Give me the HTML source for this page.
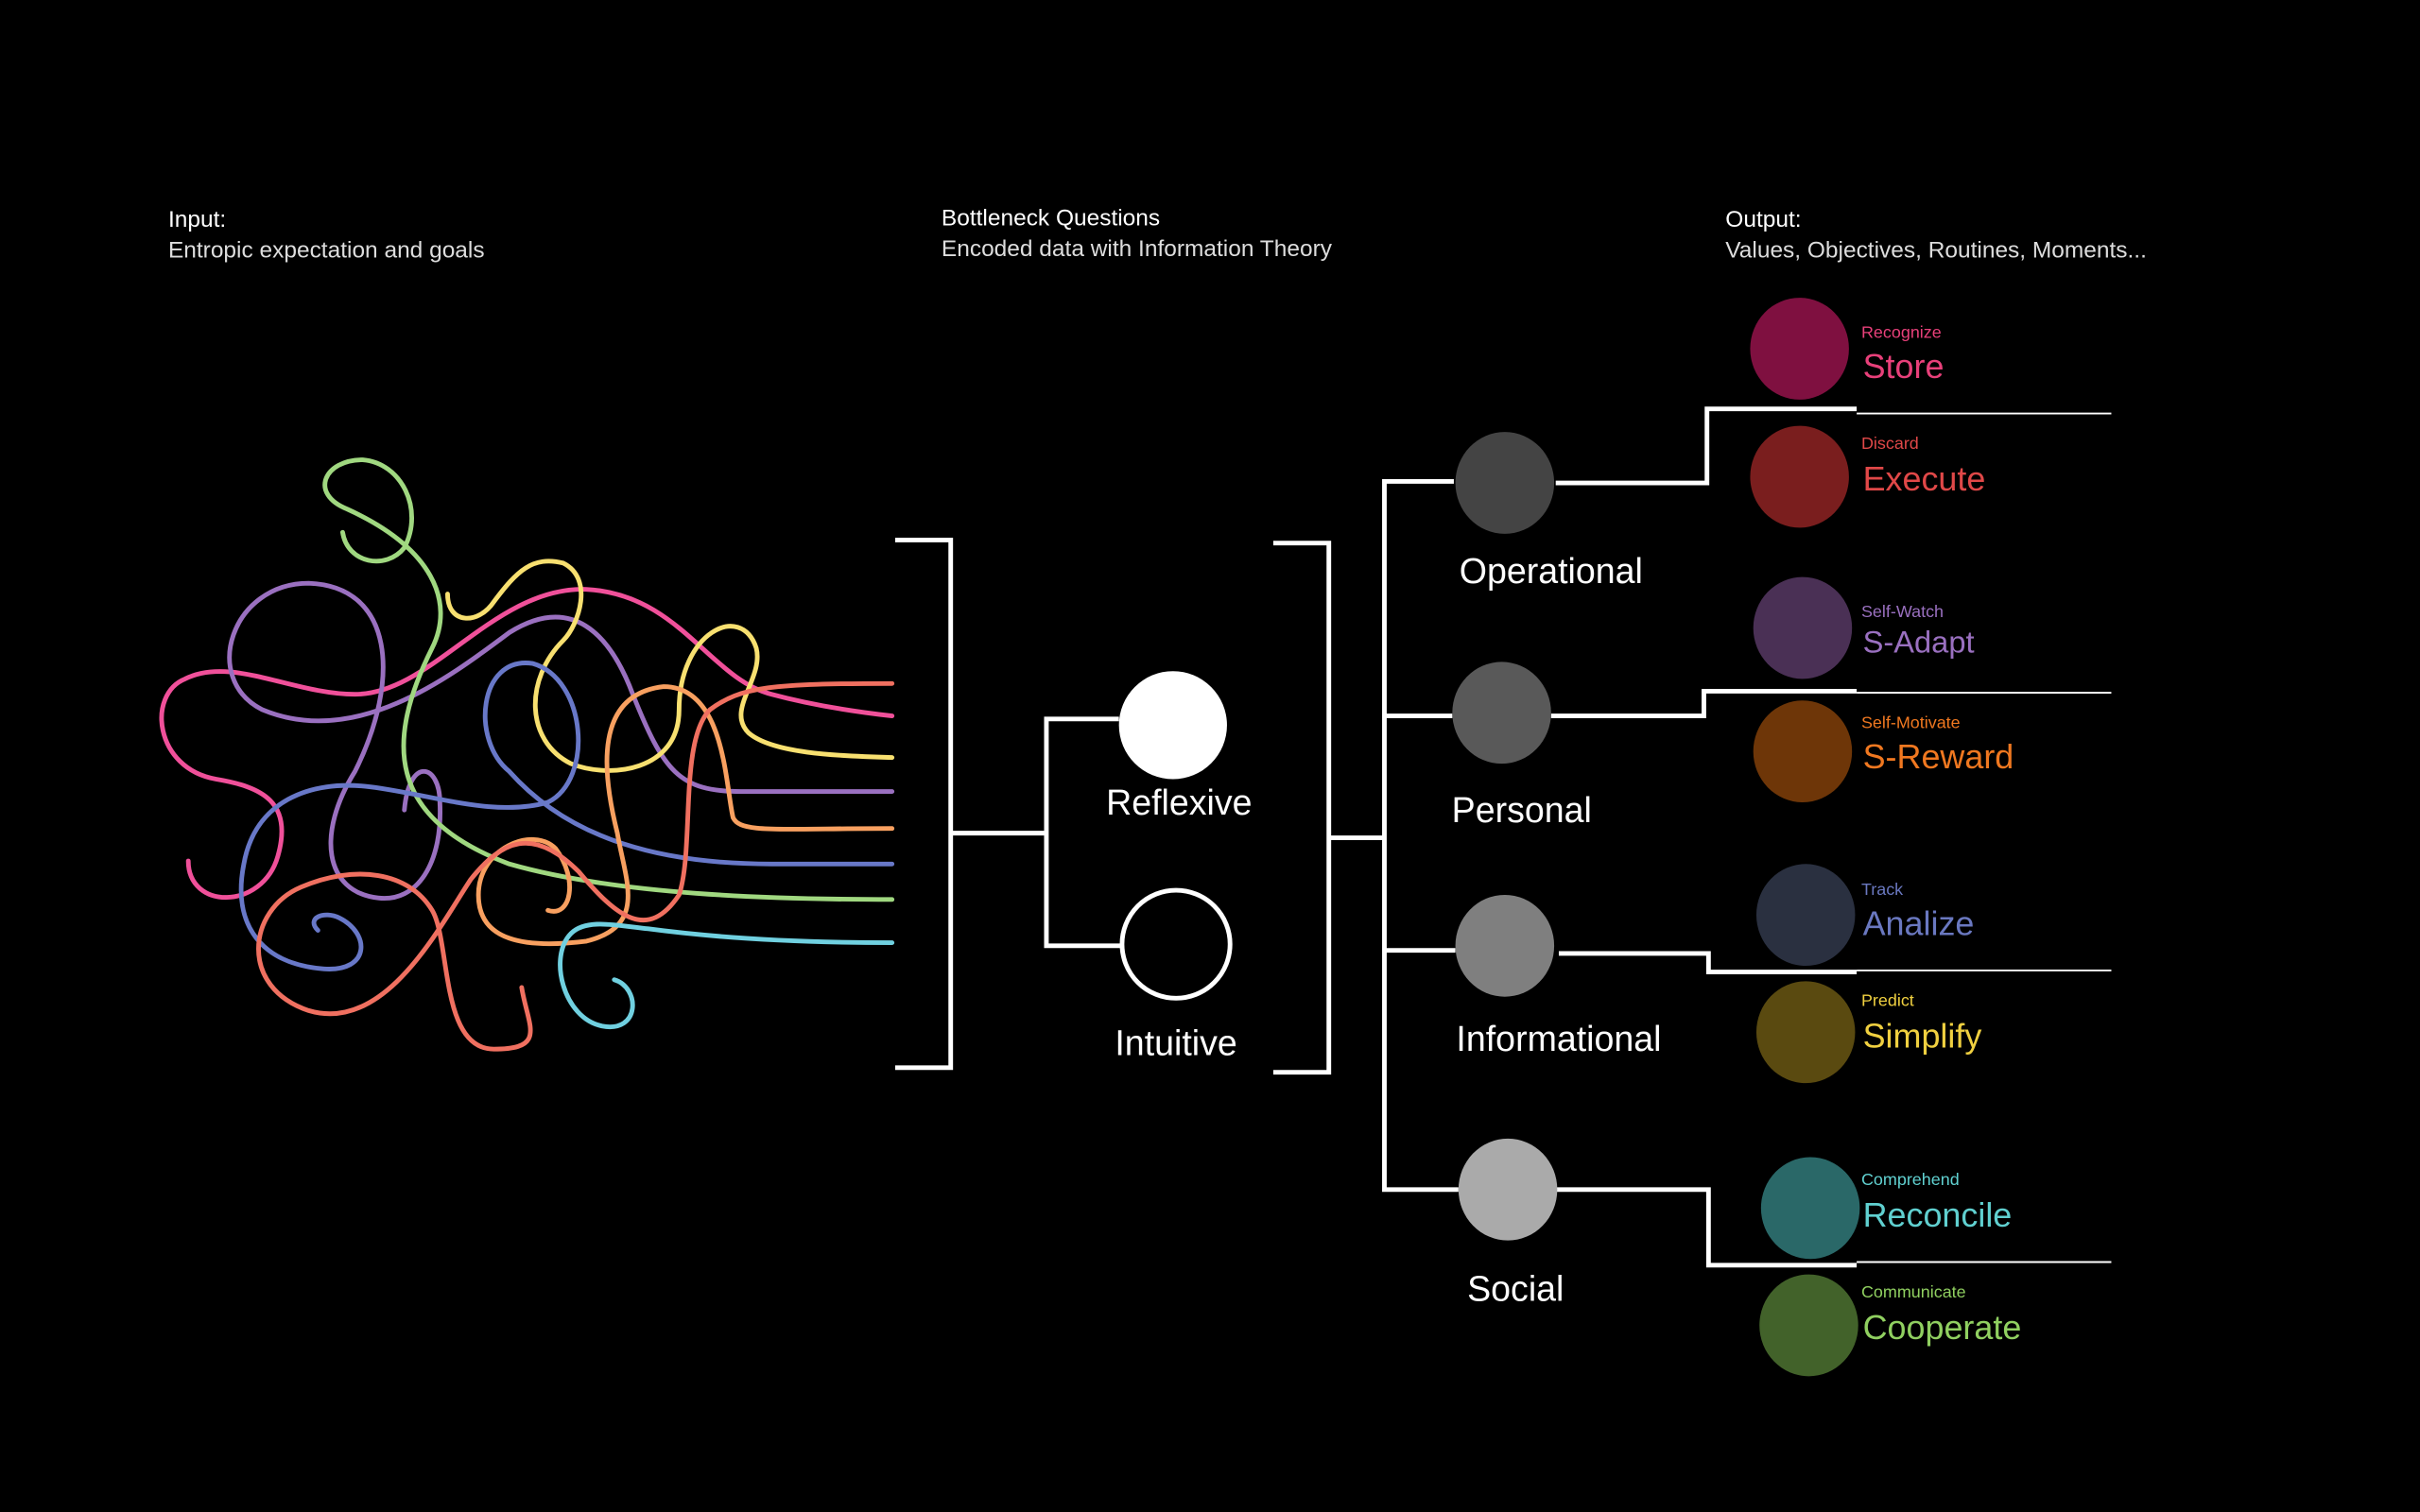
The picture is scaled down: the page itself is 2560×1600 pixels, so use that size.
<!DOCTYPE html>
<html><head><meta charset="utf-8"><style>
html,body{margin:0;padding:0;background:#000;}
svg{display:block;}
text{font-family:"Liberation Sans",sans-serif;}
</style></head><body>
<svg width="2560" height="1600" viewBox="0 0 1568 980" xmlns="http://www.w3.org/2000/svg">
<rect width="1568" height="980" fill="#000"/>
<g font-size="15" fill="#fff">
<text x="109" y="147">Input:</text>
<text x="109" y="167" fill="#ddd">Entropic expectation and goals</text>
<text x="610" y="146">Bottleneck Questions</text>
<text x="610" y="166" fill="#ddd">Encoded data with Information Theory</text>
<text x="1118" y="147">Output:</text>
<text x="1118" y="167" fill="#ddd">Values, Objectives, Routines, Moments...</text>
</g>
<g fill="none" stroke-width="3" stroke-linecap="round">
<path stroke="#f0509a" d="M122,558 C122,590 170,590 180,555 C190,520 170,510 140,505 C100,498 95,450 120,440 C150,425 190,450 230,450 C280,450 320,380 380,382 C440,385 460,440 500,450 C530,458 560,462 578,464"/>
<path stroke="#9a70c0" d="M262,525 C265,490 285,495 285,520 C287,560 270,585 245,582 C210,578 205,540 230,500 C260,440 255,380 200,378 C150,378 130,440 170,460 C230,485 290,440 330,410 C370,385 395,410 410,450 C430,500 440,513 480,513 L578,513"/>
<path stroke="#f8e070" d="M290,385 C290,405 310,405 320,390 C335,370 345,360 365,365 C385,375 375,405 365,415 C340,440 340,480 370,495 C395,505 440,500 440,460 C440,410 480,390 490,420 C495,440 470,460 485,475 C500,488 540,490 578,491"/>
<path stroke="#a0d880" d="M222,345 C225,365 250,370 262,355 C275,330 260,300 235,298 C210,298 200,320 225,330 C280,355 295,390 280,420 C250,480 250,530 330,560 C400,580 500,583 578,583"/>
<path stroke="#6878c8" d="M206,603 C198,595 210,590 220,595 C240,605 240,630 210,628 C170,625 150,600 158,560 C165,520 200,505 240,510 C280,515 320,530 355,520 C385,505 380,440 345,430 C310,425 305,480 330,500 C370,545 430,560 500,560 L578,560"/>
<path stroke="#f8a060" d="M355,590 C370,595 375,570 360,550 C345,535 310,550 310,580 C310,610 340,615 380,610 C420,600 405,570 400,540 C390,500 385,450 430,445 C470,445 470,510 475,530 C480,540 500,537 578,537"/>
<path stroke="#f07060" d="M338,640 C342,665 355,680 320,680 C285,680 292,610 280,590 C265,565 230,560 195,575 C160,590 155,640 200,655 C250,670 285,600 305,570 C325,545 345,535 375,565 C400,595 420,610 440,580 C450,550 440,480 460,460 C480,445 500,443 578,443"/>
<path stroke="#70d0e0" d="M398,635 C415,640 415,670 390,665 C365,660 355,620 370,605 C380,595 400,600 420,602 C480,610 540,611 578,611"/>
</g>
<g fill="none" stroke="#fff" stroke-width="3">
<path d="M580,350 H616 V692 H580"/>
<path d="M616,540 H678 M725,466 H678 V613 H727"/>
<path d="M825,352 H861 V695 H825"/>
<path d="M861,543 H897 M942,312 H897 V771 H945 M897,464 H941 M897,616 H943"/>
<path d="M1008,313 H1106 V265 H1203"/>
<path d="M1005,464 H1104 V448 H1203"/>
<path d="M1010,618 H1107 V630 H1203"/>
<path d="M1008,771 H1107 V820 H1203"/>
</g>
<g stroke="#fff" stroke-width="1.2">
<line x1="1203" y1="268" x2="1368" y2="268"/>
<line x1="1203" y1="449" x2="1368" y2="449"/>
<line x1="1203" y1="629" x2="1368" y2="629"/>
<line x1="1203" y1="818" x2="1368" y2="818"/>
</g>
<circle cx="760" cy="470" r="35" fill="#fff"/>
<circle cx="762" cy="612" r="35" fill="none" stroke="#fff" stroke-width="3"/>
<g font-size="23" fill="#fff" text-anchor="middle">
<text x="764" y="528">Reflexive</text>
<text x="762" y="684">Intuitive</text>
<text x="1005" y="378">Operational</text>
<text x="986" y="533">Personal</text>
<text x="1010" y="681">Informational</text>
<text x="982" y="843">Social</text>
</g>
<ellipse cx="975" cy="313" rx="32" ry="33" fill="#444"/>
<ellipse cx="973" cy="462" rx="32" ry="33" fill="#595959"/>
<ellipse cx="975" cy="613" rx="32" ry="33" fill="#7f7f7f"/>
<ellipse cx="977" cy="771" rx="32" ry="33" fill="#aaa"/>
<ellipse cx="1166" cy="226" rx="32" ry="33" fill="#7f1040"/>
<ellipse cx="1166" cy="309" rx="32" ry="33" fill="#7a1e1e"/>
<ellipse cx="1168" cy="407" rx="32" ry="33" fill="#4a3055"/>
<ellipse cx="1168" cy="487" rx="32" ry="33" fill="#6e3608"/>
<ellipse cx="1170" cy="593" rx="32" ry="33" fill="#2a3040"/>
<ellipse cx="1170" cy="669" rx="32" ry="33" fill="#5a4a10"/>
<ellipse cx="1173" cy="783" rx="32" ry="33" fill="#2a6868"/>
<ellipse cx="1172" cy="859" rx="32" ry="33" fill="#42622a"/>
<g>
<text x="1206" y="219" font-size="11" fill="#e8407a">Recognize</text>
<text x="1207" y="245" font-size="22" fill="#e8407a">Store</text>
<text x="1206" y="291" font-size="11" fill="#e04848">Discard</text>
<text x="1207" y="318" font-size="22" fill="#e04848">Execute</text>
<text x="1206" y="400" font-size="11" fill="#9a70c0">Self-Watch</text>
<text x="1207" y="423" font-size="20" fill="#9a70c0">S-Adapt</text>
<text x="1206" y="472" font-size="11" fill="#f07820">Self-Motivate</text>
<text x="1207" y="498" font-size="22" fill="#f07820">S-Reward</text>
<text x="1206" y="580" font-size="11" fill="#6a78c0">Track</text>
<text x="1207" y="606" font-size="22" fill="#6a78c0">Analize</text>
<text x="1206" y="652" font-size="11" fill="#f0d040">Predict</text>
<text x="1207" y="679" font-size="22" fill="#f0d040">Simplify</text>
<text x="1206" y="768" font-size="11" fill="#60d0d0">Comprehend</text>
<text x="1207" y="795" font-size="22" fill="#60d0d0">Reconcile</text>
<text x="1206" y="841" font-size="11" fill="#90d060">Communicate</text>
<text x="1207" y="868" font-size="22" fill="#90d060">Cooperate</text>
</g>
</svg>
</body></html>
